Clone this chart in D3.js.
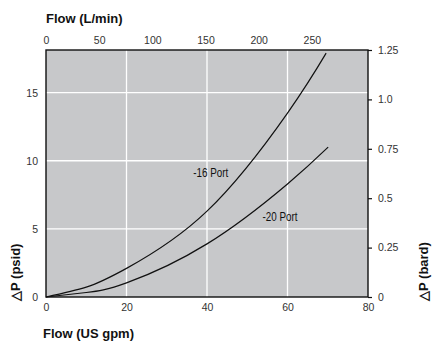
<!DOCTYPE html>
<html>
<head>
<meta charset="utf-8">
<script src="https://cdn.jsdelivr.net/npm/d3@7"></script>
<style>
  body { margin: 0; background: #fff; }
  svg { display: block; font-family: "Liberation Sans", Arial, sans-serif; }
</style>
</head>
<body>
<div id="chart"></div>
<script>
// Flow in US gpm, pressure drop in psid
const flowGpm16 = [0, 10, 20, 40, 60, 69.6];
const dp16 = [0, 0.72, 2.1, 6.3, 13.5, 17.9];
const flowGpm20 = [0, 10, 20, 40, 60, 70.1];
const dp20 = [0, 0.33, 1.04, 3.9, 8.3, 11.0];

const gpmTicks = [0, 20, 40, 60, 80];
const lpmTicks = [0, 50, 100, 150, 200, 250];
const psiTicks = [0, 5, 10, 15];
const barTicks = [0, 0.25, 0.5, 0.75, 1.0, 1.25];
const barTickLabels = ['0', '0.25', '0.5', '0.75', '1.0', '1.25'];

const seriesNames = ['-16 Port', '-20 Port'];

const W = 438, H = 353;
const margin = { top: 50, right: 70, bottom: 56, left: 46 };
const width = 368 - margin.left;
const height = 297 - margin.top;

const svg = d3.select('#chart').append('svg')
    .attr('width', W)
    .attr('height', H);

const g = svg.append('g')
    .attr('transform', `translate(${margin.left},${margin.top})`);

// Scales
const x = d3.scaleLinear().domain([0, 80]).range([0, width]);
const xL = d3.scaleLinear().domain([0, 80 * 3.78541]).range([0, width]);
const y = d3.scaleLinear().domain([0, 1.25 * 14.5038]).range([height, 0]);
const yB = d3.scaleLinear().domain([0, 1.25]).range([height, 0]);

// Plot background
g.append('rect')
    .attr('width', width)
    .attr('height', height)
    .attr('fill', '#c7c8ca');

// Grid lines
g.append('g')
    .selectAll('line')
    .data(gpmTicks.slice(1, -1))
    .enter().append('line')
    .attr('x1', d => x(d)).attr('x2', d => x(d))
    .attr('y1', 0).attr('y2', height)
    .attr('stroke', '#fff').attr('stroke-width', 1.3);

g.append('g')
    .selectAll('line')
    .data(psiTicks.slice(1))
    .enter().append('line')
    .attr('x1', 0).attr('x2', width)
    .attr('y1', d => y(d)).attr('y2', d => y(d))
    .attr('stroke', '#fff').attr('stroke-width', 1.3);

// Curves
const line = d3.line()
    .x(d => x(d[0]))
    .y(d => y(d[1]))
    .curve(d3.curveNatural);

[[flowGpm16, dp16], [flowGpm20, dp20]].forEach(([fx, fy]) => {
    g.append('path')
        .datum(fx.map((v, i) => [v, fy[i]]))
        .attr('fill', 'none')
        .attr('stroke', '#111')
        .attr('stroke-width', 1.2)
        .attr('d', line);
});

// Series labels
g.append('text')
    .attr('x', x(36.6)).attr('y', y(8.8))
    .attr('font-size', 12).attr('fill', '#111')
    .attr('textLength', 35).attr('lengthAdjust', 'spacingAndGlyphs')
    .text(seriesNames[0]);
g.append('text')
    .attr('x', x(53.8)).attr('y', y(5.6))
    .attr('font-size', 12).attr('fill', '#111')
    .attr('textLength', 35).attr('lengthAdjust', 'spacingAndGlyphs')
    .text(seriesNames[1]);

// Axes
const tickColor = '#333';

const axB = g.append('g')
    .attr('transform', `translate(0,${height})`)
    .call(d3.axisBottom(x).tickValues(gpmTicks).tickSize(0).tickPadding(7));

const axT = g.append('g')
    .call(d3.axisTop(xL).tickValues(lpmTicks).tickSize(0).tickPadding(6));

const axLft = g.append('g')
    .call(d3.axisLeft(y).tickValues(psiTicks).tickSize(0).tickPadding(8));

const axR = g.append('g')
    .attr('transform', `translate(${width},0)`)
    .call(d3.axisRight(yB).tickValues(barTicks).tickSize(4).tickPadding(6)
        .tickFormat((d, i) => barTickLabels[i]));

[axB, axT, axLft, axR].forEach(a => {
    a.select('.domain').remove();
    a.selectAll('text')
        .attr('font-size', 10.5)
        .attr('font-family', '"Liberation Sans", Arial, sans-serif')
        .attr('fill', tickColor);
    a.selectAll('line').attr('stroke', '#111').attr('stroke-width', 1.2);
});

// Frame
g.append('rect')
    .attr('width', width)
    .attr('height', height)
    .attr('fill', 'none')
    .attr('stroke', '#111')
    .attr('stroke-width', 1.4);

// Axis titles
svg.append('text')
    .attr('x', 46).attr('y', 23)
    .attr('font-size', 13).attr('font-weight', 'bold').attr('fill', '#111')
    .text('Flow (L/min)');

svg.append('text')
    .attr('x', 43).attr('y', 338)
    .attr('font-size', 13).attr('font-weight', 'bold').attr('fill', '#111')
    .text('Flow (US gpm)');

svg.append('text')
    .attr('transform', 'translate(20,301) rotate(-90)')
    .attr('font-size', 13).attr('font-weight', 'bold').attr('fill', '#111')
    .text('△P (psid)');

svg.append('text')
    .attr('transform', 'translate(428,301) rotate(-90)')
    .attr('font-size', 13).attr('font-weight', 'bold').attr('fill', '#111')
    .text('△P (bard)');
</script>
</body>
</html>
